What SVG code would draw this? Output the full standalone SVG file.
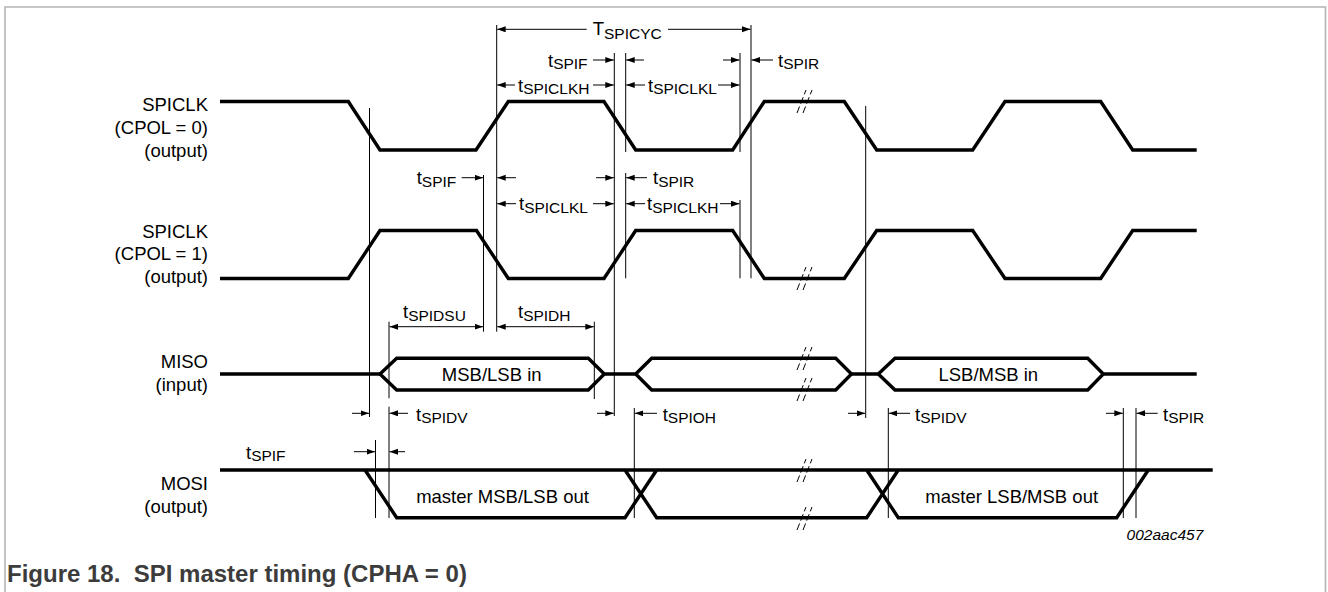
<svg xmlns="http://www.w3.org/2000/svg" width="1328" height="592" viewBox="0 0 1328 592">
<defs>
<marker id="ah" markerUnits="userSpaceOnUse" markerWidth="9" markerHeight="7" refX="8.5" refY="3" orient="auto-start-reverse">
<path d="M0,0 L8.5,3 L0,6 z" fill="#000"/>
</marker>
<style>
.lbl{font-family:"Liberation Sans",Arial,sans-serif;font-size:18.5px;fill:#000}
.sub{font-size:15.5px}
.wave{fill:none;stroke:#000;stroke-width:3.4;stroke-linejoin:miter}
.dim{fill:none;stroke:#000;stroke-width:1}
.arr{fill:none;stroke:#000;stroke-width:1;marker-end:url(#ah)}
.dbl{fill:none;stroke:#000;stroke-width:1;marker-end:url(#ah);marker-start:url(#ah)}
.brk{fill:none;stroke:#000;stroke-width:1;stroke-dasharray:7 3}
</style>
</defs>
<rect width="1328" height="592" fill="#fff"/>
<path d="M5,592 V7 H1325.5 V592" fill="none" stroke="#b4b4b4" stroke-width="1.6"/>

<g id="signal-labels" class="lbl" text-anchor="end">
<text x="208" y="110.7">SPICLK</text>
<text x="208" y="133.5">(CPOL = 0)</text>
<text x="208" y="156.5">(output)</text>
<text x="208" y="237.5">SPICLK</text>
<text x="208" y="260">(CPOL = 1)</text>
<text x="208" y="282.5">(output)</text>
<text x="208" y="368.3">MISO</text>
<text x="208" y="390.7">(input)</text>
<text x="208" y="490">MOSI</text>
<text x="208" y="512.7">(output)</text>
</g>

<g id="waveforms">
<path class="wave" d="M220,101.5 H348.3 L380,150 H476 L508.3,101.5 H604 L635.7,150 H732.7 L764.3,101.5 H844.3 L876.7,150 H972.7 L1005,101.5 H1100.7 L1132.7,150 H1196.7"/>
<path class="wave" d="M220,278.5 H348.3 L380,230.5 H476.5 L508.3,278.5 H604 L635.7,230.5 H732.7 L764.3,278.5 H844.3 L876.7,230.5 H972.7 L1005,278.5 H1100.7 L1132.7,230.5 H1196.7"/>
<path class="wave" d="M220,374 H380 M604.3,374 H635.7 M851.5,374 H878.3 M1103.3,374 H1196.7"/>
<path class="wave" d="M380,374 L396.7,358.3 H588.3 L604.3,374 L588.3,390 H396.7 Z"/>
<path class="wave" d="M635.7,374 L651.7,358.3 H835.7 L851.5,374 L835.7,390 H651.7 Z"/>
<path class="wave" d="M878.3,374 L895,358.3 H1087.7 L1103.3,374 L1087.7,390 H895 Z"/>
<path class="wave" d="M220,470 H1212.7 M365,470 L396.7,517.7 H625 L656.7,470 M625,470 L656.7,517.7 H866.7 L898.3,470 M866.7,470 L898.3,517.7 H1116.7 L1148.3,470"/>
</g>

<g id="break-marks">
<path class="brk" d="M797,113 L806,90 M803,113 L812,90"/>
<path class="brk" d="M797,290 L806,267 M803,290 L812,267"/>
<path class="brk" d="M797,370 L806,347 M803,370 L812,347"/>
<path class="brk" d="M797,401 L806,378 M803,401 L812,378"/>
<path class="brk" d="M797,482 L806,459 M803,482 L812,459"/>
<path class="brk" d="M797,530 L806,507 M803,530 L812,507"/>
</g>

<g id="hex-texts" class="lbl" text-anchor="middle">
<text x="491.7" y="380.5">MSB/LSB in</text>
<text x="988.3" y="380.5">LSB/MSB in</text>
<text x="502.5" y="503.3">master MSB/LSB out</text>
<text x="1011.7" y="503.3">master LSB/MSB out</text>
</g>

<g id="connectors">
<path class="dim" d="M369.5,108 V417 M389,321.7 V398.3 M389,406.7 V518 M375.5,440 V518 M483.5,175 V331.7 M496.7,25 V331.7 M594.3,321.7 V399 M614.3,53 V416 M625.7,53 V152 M625.7,173 V278.3 M634.3,408 V518 M740,53 V152 M740,200 V278.3 M751,25 V278.3 M865.7,106 V418 M888.3,408 V518 M1123.3,408 V518 M1136,408 V518"/>
<line class="arr" x1="586.7" y1="29.3" x2="497.2" y2="29.3"/>
<line class="arr" x1="668" y1="29.3" x2="750.5" y2="29.3"/>
<line class="arr" x1="593" y1="60" x2="613.8" y2="60"/>
<line class="arr" x1="644" y1="60" x2="626.2" y2="60"/>
<line class="arr" x1="723" y1="60" x2="739.5" y2="60"/>
<line class="arr" x1="773" y1="60" x2="751.5" y2="60"/>
<line class="arr" x1="515" y1="85" x2="497.2" y2="85"/>
<line class="arr" x1="593" y1="85" x2="613.8" y2="85"/>
<line class="arr" x1="645" y1="85" x2="626.2" y2="85"/>
<line class="arr" x1="718" y1="85" x2="739.5" y2="85"/>
<line class="arr" x1="461.7" y1="177.7" x2="483" y2="177.7"/>
<line class="arr" x1="516" y1="177.7" x2="497.2" y2="177.7"/>
<line class="arr" x1="596" y1="177.7" x2="613.8" y2="177.7"/>
<line class="arr" x1="647" y1="177.7" x2="626.2" y2="177.7"/>
<line class="arr" x1="516" y1="203.7" x2="497.2" y2="203.7"/>
<line class="arr" x1="593" y1="203.7" x2="613.8" y2="203.7"/>
<line class="arr" x1="645" y1="203.7" x2="626.2" y2="203.7"/>
<line class="arr" x1="720" y1="203.7" x2="739.5" y2="203.7"/>
<line class="dbl" x1="389.5" y1="326.7" x2="483" y2="326.7"/>
<line class="dbl" x1="497.2" y1="326.7" x2="593.8" y2="326.7"/>
<line class="arr" x1="352" y1="413.3" x2="369" y2="413.3"/>
<line class="arr" x1="408" y1="413.3" x2="389.5" y2="413.3"/>
<line class="arr" x1="597" y1="413.3" x2="613.8" y2="413.3"/>
<line class="arr" x1="657" y1="413.3" x2="634.8" y2="413.3"/>
<line class="arr" x1="848" y1="413.3" x2="865.2" y2="413.3"/>
<line class="arr" x1="910" y1="413.3" x2="888.8" y2="413.3"/>
<line class="arr" x1="1106" y1="413.3" x2="1122.8" y2="413.3"/>
<line class="arr" x1="1157.7" y1="413.3" x2="1136.5" y2="413.3"/>
<line class="arr" x1="354" y1="451.7" x2="375" y2="451.7"/>
<line class="arr" x1="405" y1="451.7" x2="389.5" y2="451.7"/>
</g>

<g id="timing-labels" class="lbl">
<text x="592.7" y="35">T<tspan class="sub" dy="3.5">SPICYC</tspan></text>
<text x="548" y="66.5">t<tspan class="sub" dy="2.5">SPIF</tspan></text>
<text x="778" y="66.5">t<tspan class="sub" dy="2.5">SPIR</tspan></text>
<text x="518" y="91.5">t<tspan class="sub" dy="2.5">SPICLKH</tspan></text>
<text x="648" y="91.5">t<tspan class="sub" dy="2.5">SPICLKL</tspan></text>
<text x="416.7" y="184.2">t<tspan class="sub" dy="2.5">SPIF</tspan></text>
<text x="653" y="184.2">t<tspan class="sub" dy="2.5">SPIR</tspan></text>
<text x="519" y="210.2">t<tspan class="sub" dy="2.5">SPICLKL</tspan></text>
<text x="647" y="210.2">t<tspan class="sub" dy="2.5">SPICLKH</tspan></text>
<text x="403" y="318">t<tspan class="sub" dy="3">SPIDSU</tspan></text>
<text x="518" y="318">t<tspan class="sub" dy="3">SPIDH</tspan></text>
<text x="416" y="420.5">t<tspan class="sub" dy="2.5">SPIDV</tspan></text>
<text x="662.7" y="420.5">t<tspan class="sub" dy="2.5">SPIOH</tspan></text>
<text x="915" y="420.5">t<tspan class="sub" dy="2.5">SPIDV</tspan></text>
<text x="1163" y="420.5">t<tspan class="sub" dy="2.5">SPIR</tspan></text>
<text x="246" y="458.5">t<tspan class="sub" dy="2.5">SPIF</tspan></text>
</g>

<text id="figure-code" x="1203.3" y="540" text-anchor="end" font-family="'Liberation Sans',Arial,sans-serif" font-size="15.5" font-style="italic" fill="#000">002aac457</text>

<text id="caption" x="7" y="581.5" font-family="'Liberation Sans',Arial,sans-serif" font-size="24" font-weight="bold" fill="#3c3c3c" xml:space="preserve">Figure 18.  SPI master timing (CPHA = 0)</text>
</svg>
